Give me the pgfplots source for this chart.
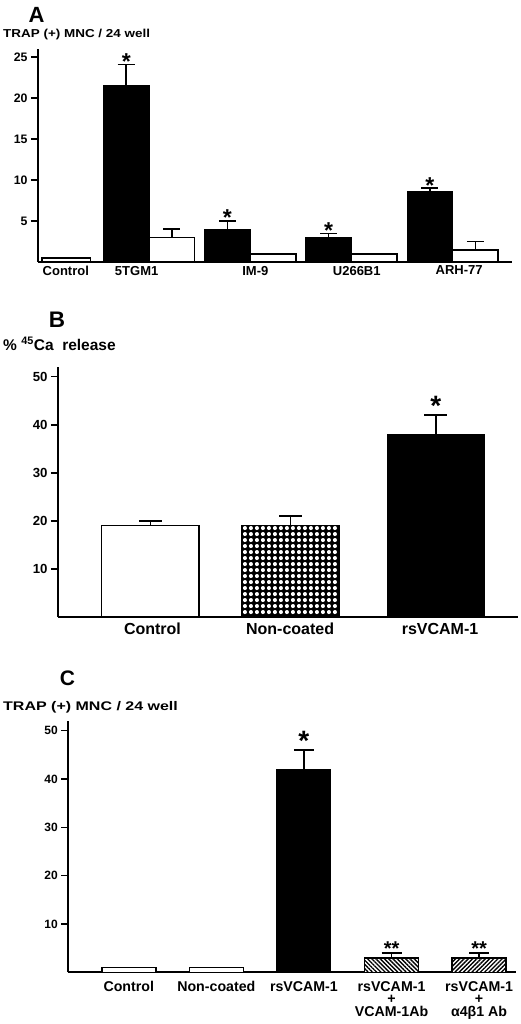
\documentclass[border=0pt]{standalone}
\usepackage{graphicx}
\usepackage{fontspec}
\setmainfont{Liberation Sans}
\usepackage{pgfplots}
\pgfplotsset{compat=1.18}
\usetikzlibrary{patterns,patterns.meta}

\pgfdeclarepatternformonly{bigdots}{\pgfqpoint{0pt}{0pt}}{\pgfqpoint{6.4pt}{6.4pt}}{\pgfqpoint{6.4pt}{6.4pt}}{%
  \pgfpathcircle{\pgfqpoint{3.2pt}{3.2pt}}{2.2pt}\pgfusepath{fill}}

\newcommand{\fs}[1]{\bfseries\fontsize{#1}{#1}\selectfont}

\pgfplotsset{
  panel/.style={
    scale only axis, ymin=0, clip=false,
    anchor=south west,
    axis x line*=bottom, axis y line*=left,
    axis line style={line width=1.7pt,-},
    ytick style={line width=1.6pt, black},
    xtick style={draw=none},
    major tick length=7pt,
    tick align=outside,
    /pgf/number format/assume math mode=true,
  },
  eb/.style={error bars/.cd, y dir=plus, y explicit,
    error bar style={line width=1.6pt, black},
    error mark=|,
    error mark options={black, line width=1.6pt, mark size=#1}},
}

\begin{document}
\begin{tikzpicture}
\useasboundingbox (0pt,0pt) rectangle (520pt,-1024pt);

% ---------------- Panel A ----------------
\node[font=\fs{22}, anchor=center] at (36.5pt,-14.5pt) {A};
\node[font=\fs{11.5}, anchor=base west, inner sep=0] at (3pt,-38pt) {\scalebox{1.17}[1]{TRAP (+) MNC / 24 well}};
\begin{axis}[panel, at={(38pt,-262pt)}, width=474pt, height=213pt,
  ymax=26, xmin=-0.097, xmax=4.587,
  ytick={5,10,15,20,25},
  xtick={0.178,0.878,2.051,3.053,4.065},
  xticklabels={Control,5TGM1,IM-9,U266B1,ARH-77},
  xticklabel style={font=\fs{13}, yshift=6.5pt},
  yticklabel style={font=\fs{12.3}}]
\addplot[ybar, bar width=0.48, bar shift=0, fill=white, draw=black, line width=1.6pt]
  coordinates {(0.183,0.5)};
\addplot[ybar, bar width=0.45, bar shift=0, fill=black, draw=black, line width=1pt, eb=8.5pt]
  coordinates {(0.775,21.6) +- (0,2.5) (1.775,4) +- (0,1) (2.775,3) +- (0,0.5) (3.775,8.6) +- (0,0.4)};
\addplot[ybar, bar width=0.45, bar shift=0, fill=white, draw=black, line width=1.6pt, eb=8.5pt]
  coordinates {(1.225,3) +- (0,1) (4.225,1.5) +- (0,1)};
\addplot[ybar, bar width=0.45, bar shift=0, fill=white, draw=black, line width=1.6pt]
  coordinates {(2.225,1) (3.225,1)};
\node[font=\fs{23}, anchor=base, yshift=-4.8pt] at (axis cs:0.775,24.1) {*};
\node[font=\fs{23}, anchor=base, yshift=-4.8pt] at (axis cs:1.775,5.0) {*};
\node[font=\fs{23}, anchor=base, yshift=-4.8pt] at (axis cs:2.775,3.5) {*};
\node[font=\fs{23}, anchor=base, yshift=-4.8pt] at (axis cs:3.775,9.0) {*};
\end{axis}

% ---------------- Panel B ----------------
\node[font=\fs{22.5}, anchor=center] at (57pt,-320pt) {B};
\node[font=\fs{15.5}, anchor=base west, inner sep=0] at (3pt,-350pt) {\%~\textsuperscript{45}Ca~~release};
\begin{axis}[panel, at={(58pt,-617pt)}, width=460pt, height=250pt,
  ymax=52, xmin=0.353, xmax=3.576,
  ytick={10,20,30,40,50},
  xtick={1.015,1.979,3.03},
  xticklabels={Control,Non-coated,rsVCAM-1},
  xticklabel style={font=\fs{16}, yshift=4.3pt},
  yticklabel style={font=\fs{13.2}}]
\addplot[ybar, bar width=0.683, bar shift=0, fill=white, draw=black, line width=1.6pt, eb=11.5pt]
  coordinates {(1,19) +- (0,1)};
\addplot[ybar, bar width=0.683, bar shift=0, fill=black, draw=black, line width=1.6pt,
  postaction={pattern=bigdots, pattern color=white}, eb=11.5pt]
  coordinates {(1.982,19) +- (0,2)};
\addplot[ybar, bar width=0.683, bar shift=0, fill=black, draw=black, line width=1pt, eb=11.5pt]
  coordinates {(3,38) +- (0,4)};
\node[font=\fs{28}, anchor=base, yshift=-0.7pt] at (axis cs:3,42) {*};
\end{axis}

% ---------------- Panel C ----------------
\node[font=\fs{21}, anchor=center] at (67.5pt,-678pt) {C};
\node[font=\fs{12.5}, anchor=base west, inner sep=0] at (3pt,-710pt) {\scalebox{1.28}[1]{TRAP (+) MNC / 24 well}};
\begin{axis}[panel, at={(68.3pt,-972.3pt)}, width=447.7pt, height=251.3pt,
  ymax=52, xmin=0.31, xmax=5.421,
  ytick={10,20,30,40,50},
  xtick={1,2,3,4,5},
  xticklabels={Control,Non-coated,rsVCAM-1,{rsVCAM-1\\+\\VCAM-1Ab},{rsVCAM-1\\+\\α4β1 Ab}},
  xticklabel style={font=\bfseries\fontsize{14.2}{12.8}\selectfont, align=center, yshift=1.7pt},
  yticklabel style={font=\fs{12}}]
\addplot[ybar, bar width=0.616, bar shift=0, fill=white, draw=black, line width=1.6pt]
  coordinates {(1,1) (2,1)};
\addplot[ybar, bar width=0.616, bar shift=0, fill=black, draw=black, line width=1pt, eb=10pt]
  coordinates {(3,42) +- (0,4)};
\addplot[ybar, bar width=0.616, bar shift=0, fill=white, draw=black, line width=1.6pt,
  postaction={pattern={Lines[angle=-45,distance=3pt,line width=1.4pt]}}, eb=10pt]
  coordinates {(4,3) +- (0,1)};
\addplot[ybar, bar width=0.616, bar shift=0, fill=white, draw=black, line width=1.6pt,
  postaction={pattern={Lines[angle=45,distance=3pt,line width=1.4pt]}}, eb=10pt]
  coordinates {(5,3) +- (0,1)};
\node[font=\fs{28}, anchor=base, yshift=-0.6pt] at (axis cs:3,46) {*};
\node[font=\fs{20}, anchor=base, yshift=-2.9pt] at (axis cs:4,4) {**};
\node[font=\fs{20}, anchor=base, yshift=-2.9pt] at (axis cs:5,4) {**};
\end{axis}
\end{tikzpicture}
\end{document}
